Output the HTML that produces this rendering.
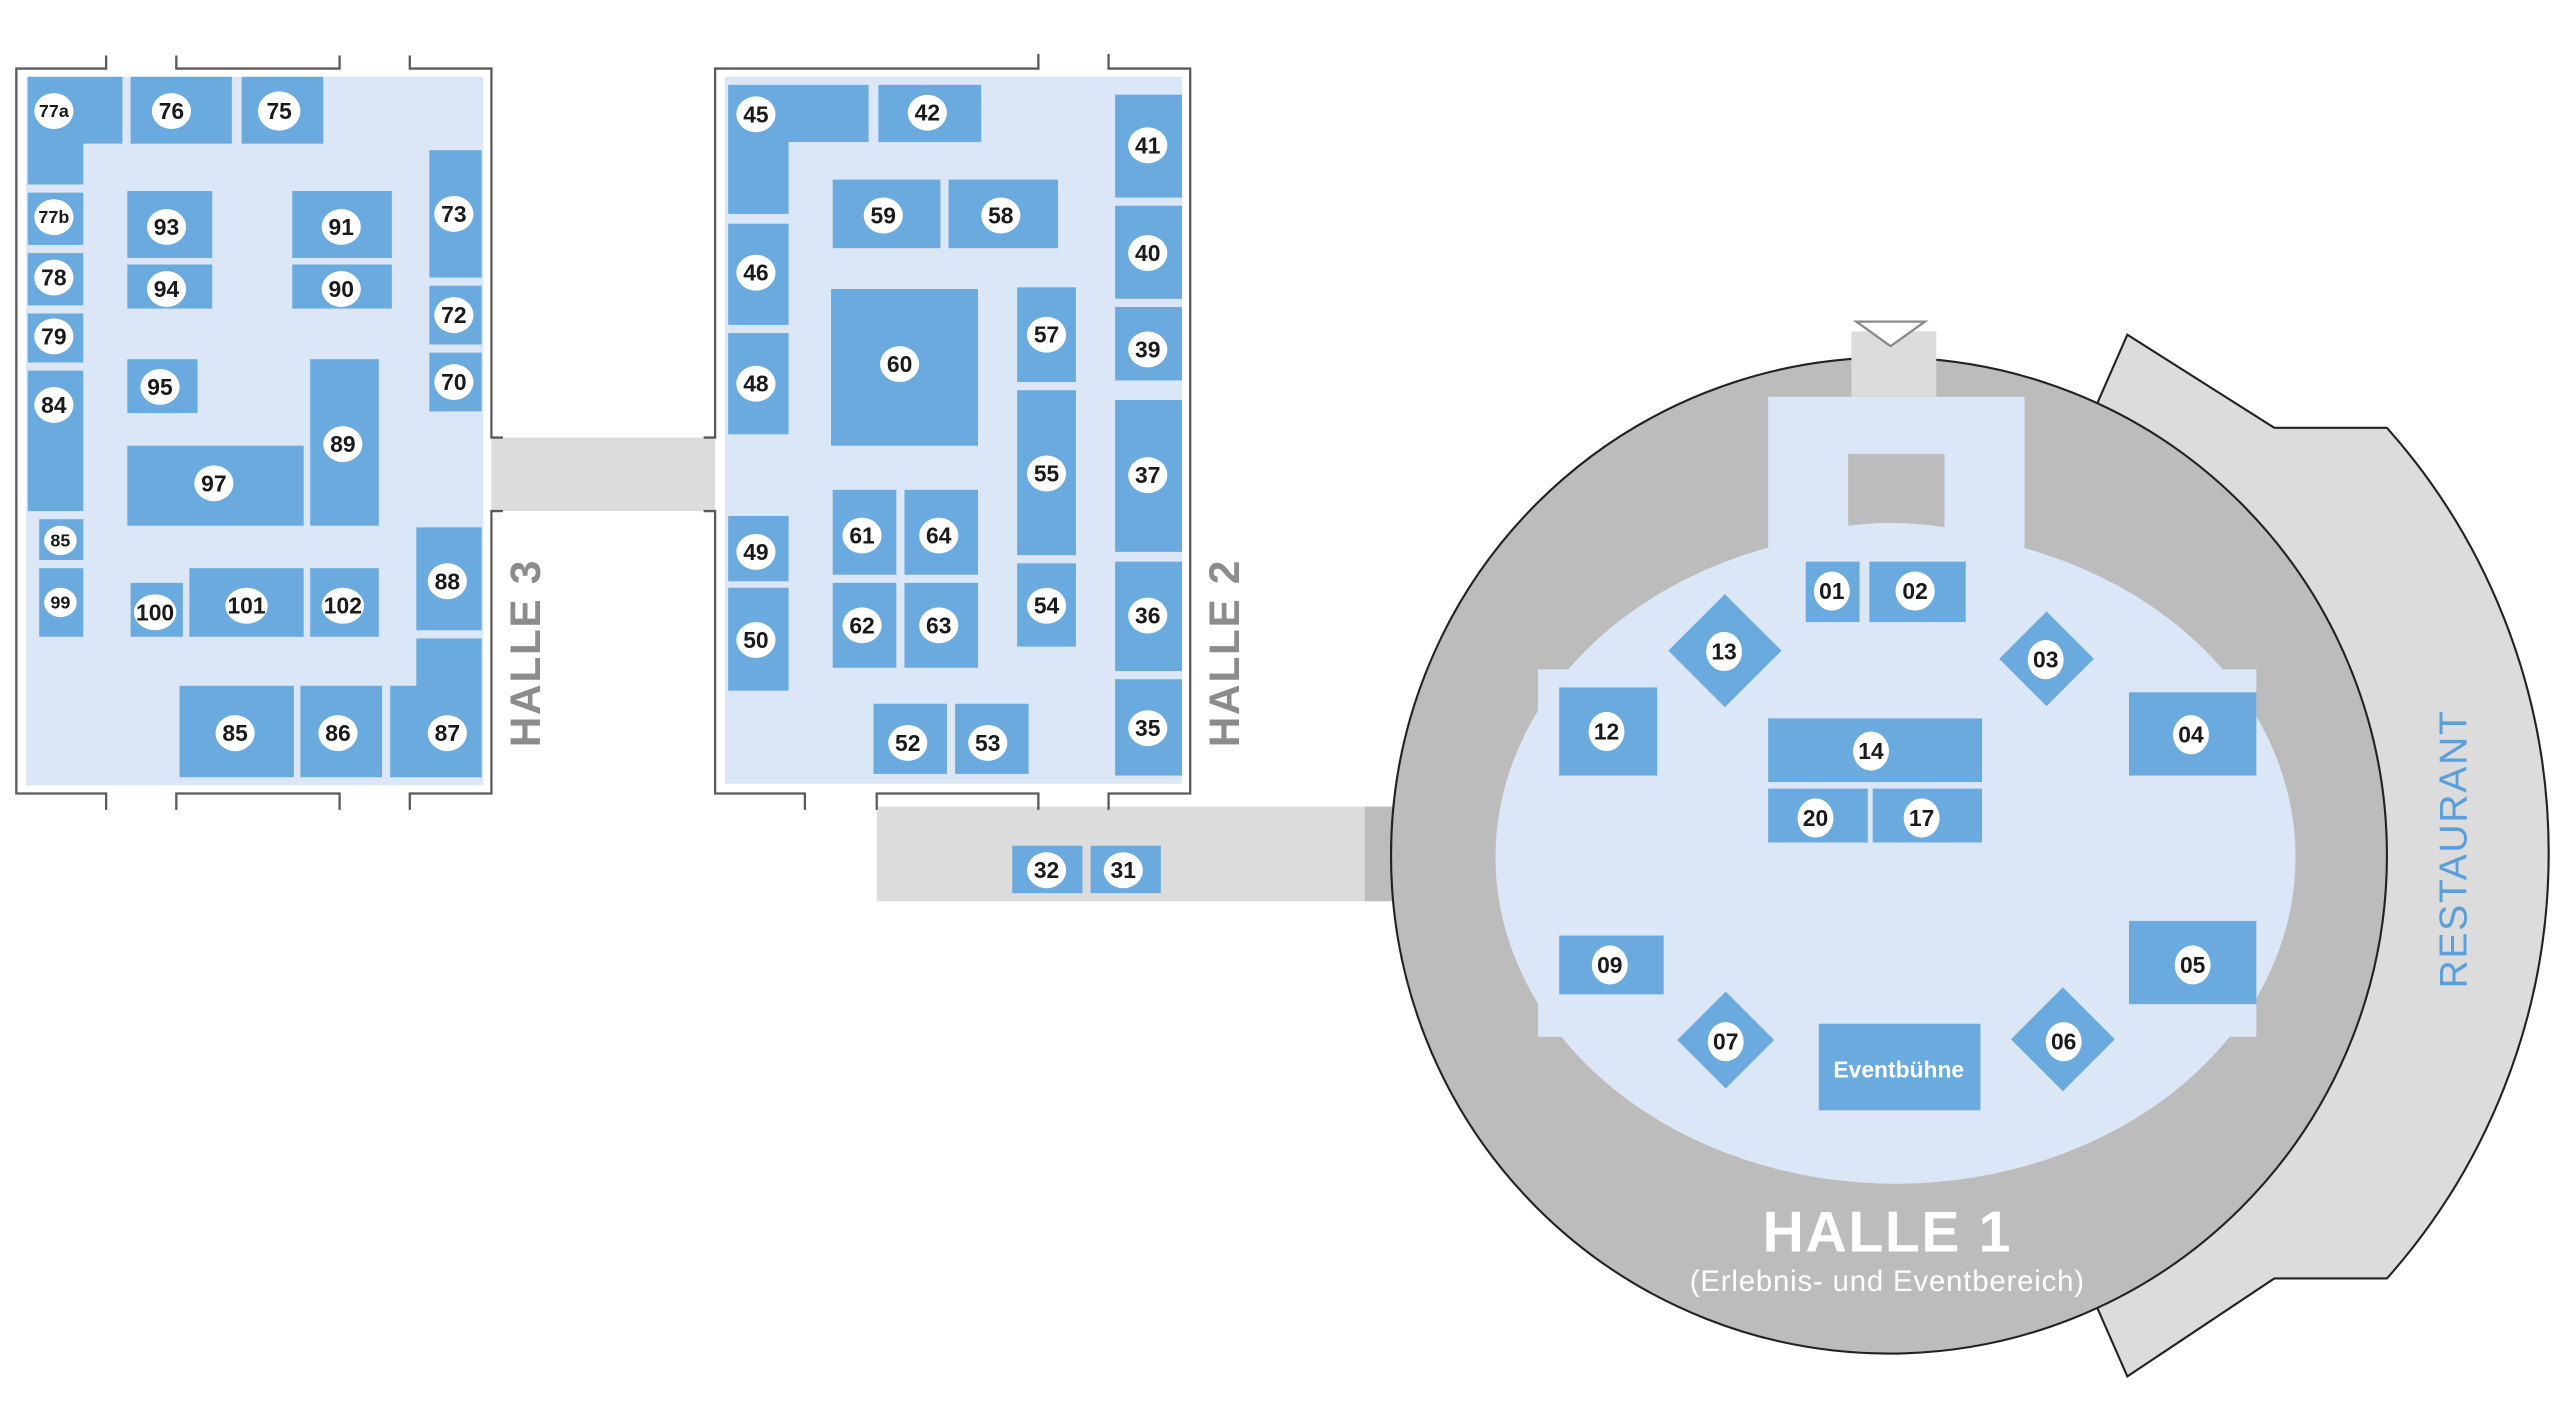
<!DOCTYPE html>
<html><head><meta charset="utf-8"><style>
html,body{margin:0;padding:0;background:#fff;}
svg{display:block;}
text{font-family:"Liberation Sans Narrow","Liberation Sans",sans-serif;}
.b{fill:#6aaadf;}
.l ellipse{fill:#fff;}
.l text{font-size:14px;font-weight:bold;fill:#1a1a1a;text-anchor:middle;dominant-baseline:central;}
.w{fill:none;stroke:#5a5a5a;stroke-width:1.4;}
</style></head><body>
<svg width="2560" height="1420" viewBox="0 0 1568 869.7" preserveAspectRatio="none" xmlns="http://www.w3.org/2000/svg">
<rect width="1568" height="870" fill="#fff"/>

<rect x="301" y="268" width="137" height="45" fill="#dcdcdc"/>
<rect x="537" y="494" width="300" height="58" fill="#dcdcdc"/>
<rect x="836" y="494" width="30" height="58" fill="#bcbcbc"/>

<rect x="16" y="47" width="280" height="434" fill="#dbe7f6"/>
<path class="w" d="M65,34 V42 H10 V486 H65 V496 M108,34 V42 H208 V34 M251,34 V42 H301 V268 H308 M308,313 H301 V486 H251 V496 M108,496 V486 H208 V496"/>
<g class="b">
<path d="M17,47 H75 V88 H51 V113 H17 Z"/>
<rect x="80" y="47" width="62" height="41"/>
<rect x="148" y="47" width="50" height="41"/>
<rect x="17" y="118" width="34" height="32"/>
<rect x="17" y="155" width="34" height="32"/>
<rect x="17" y="192" width="34" height="30"/>
<rect x="17" y="227" width="34" height="86"/>
<rect x="24" y="318" width="27" height="25"/>
<rect x="24" y="348" width="27" height="42"/>
<rect x="78" y="117" width="52" height="41"/>
<rect x="78" y="162" width="52" height="27"/>
<rect x="179" y="117" width="61" height="41"/>
<rect x="179" y="162" width="61" height="27"/>
<rect x="78" y="220" width="43" height="33"/>
<rect x="78" y="273" width="108" height="49"/>
<rect x="190" y="220" width="42" height="102"/>
<rect x="263" y="92" width="32" height="78"/>
<rect x="263" y="175" width="32" height="36"/>
<rect x="263" y="216" width="32" height="36"/>
<rect x="255" y="323" width="40" height="63"/>
<path d="M255,391 H295 V476 H239 V420 H255 Z"/>
<rect x="80" y="357" width="32" height="33"/>
<rect x="116" y="348" width="70" height="42"/>
<rect x="190" y="348" width="42" height="42"/>
<rect x="110" y="420" width="70" height="56"/>
<rect x="184" y="420" width="50" height="56"/>
</g>
<text x="322" y="400" transform="rotate(-90 322 400)" text-anchor="middle" dominant-baseline="central" font-size="26" font-weight="bold" fill="#8c8c8c" letter-spacing="1">HALLE 3</text>

<rect x="444" y="47" width="280" height="433" fill="#dbe7f6"/>
<path class="w" d="M636,33 V42 H438 V268 H431 M431,313 H438 V486 H493 V496 M537,496 V486 H636 V496 M679,33 V42 H729 V486 H679 V496"/>
<g class="b">
<path d="M446,52 H532 V87 H483 V131 H446 Z"/>
<rect x="538" y="52" width="63" height="35"/>
<rect x="683" y="58" width="41" height="63"/>
<rect x="683" y="126" width="41" height="57"/>
<rect x="683" y="188" width="41" height="45"/>
<rect x="683" y="245" width="41" height="93"/>
<rect x="683" y="344" width="41" height="67"/>
<rect x="683" y="416" width="41" height="59"/>
<rect x="510" y="110" width="66" height="42"/>
<rect x="581" y="110" width="67" height="42"/>
<rect x="446" y="137" width="37" height="62"/>
<rect x="446" y="204" width="37" height="62"/>
<rect x="509" y="177" width="90" height="96"/>
<rect x="623" y="176" width="36" height="58"/>
<rect x="623" y="239" width="36" height="101"/>
<rect x="623" y="345" width="36" height="51"/>
<rect x="446" y="316" width="37" height="40"/>
<rect x="446" y="360" width="37" height="63"/>
<rect x="510" y="300" width="39" height="52"/>
<rect x="554" y="300" width="45" height="52"/>
<rect x="510" y="357" width="39" height="52"/>
<rect x="554" y="357" width="45" height="52"/>
<rect x="535" y="431" width="45" height="43"/>
<rect x="585" y="431" width="45" height="43"/>
<rect x="620" y="518" width="43" height="29"/>
<rect x="668" y="518" width="43" height="29"/>
</g>
<text x="750" y="400" transform="rotate(-90 750 400)" text-anchor="middle" dominant-baseline="central" font-size="26" font-weight="bold" fill="#8c8c8c" letter-spacing="1">HALLE 2</text>

<path d="M1285,246 L1303,205 L1393,262 L1462,262 A392,392 0 0 1 1462,783 L1393,783 L1303,843 L1285,802 Z" fill="#dcdcdc" stroke="#222" stroke-width="1.3"/>
<text x="1503" y="520" transform="rotate(-90 1503 520)" text-anchor="middle" dominant-baseline="central" font-size="24" fill="#5a9fdc" letter-spacing="1">RESTAURANT</text>

<circle cx="1157" cy="524" r="305" fill="#bcbcbc" stroke="#222" stroke-width="1.3"/>
<rect x="1134" y="203" width="52" height="40" fill="#dcdcdc"/>
<path d="M1137,197 H1179 L1158,212 Z" fill="#fff" stroke="#888" stroke-width="1.4"/>
<g fill="#dbe7f6">
<ellipse cx="1161" cy="525" rx="245" ry="200"/>
<rect x="942" y="410" width="440" height="225"/>
<rect x="1083" y="243" width="157" height="130"/>
</g>
<path d="M1132,278 H1191 V323 Q1161,318 1132,322 Z" fill="#bcbcbc"/>
<g class="b">
<rect x="1106" y="344" width="33" height="37"/>
<rect x="1145" y="344" width="59" height="37"/>
<rect x="1032" y="374" width="49" height="49" transform="rotate(45 1056.5 398.5)"/>
<rect x="1233" y="383" width="41" height="41" transform="rotate(45 1253.5 403.5)"/>
<rect x="955" y="421" width="60" height="54"/>
<rect x="1304" y="424" width="78" height="51"/>
<rect x="1083" y="440" width="131" height="39"/>
<rect x="1083" y="483" width="61" height="33"/>
<rect x="1147" y="483" width="67" height="33"/>
<rect x="955" y="573" width="64" height="36"/>
<rect x="1304" y="564" width="78" height="51"/>
<rect x="1036" y="616" width="42" height="42" transform="rotate(45 1057 637)"/>
<rect x="1241" y="614" width="45" height="45" transform="rotate(45 1263.5 636.5)"/>
<rect x="1114" y="627" width="99" height="53"/>
</g>
<text x="1163" y="655" text-anchor="middle" dominant-baseline="central" font-size="14" font-weight="bold" fill="#fff">Eventbühne</text>
<text x="1156" y="755" text-anchor="middle" dominant-baseline="central" font-size="35" font-weight="bold" fill="#fff" letter-spacing="1">HALLE 1</text>
<text x="1156" y="785" text-anchor="middle" dominant-baseline="central" font-size="18" fill="#fff" letter-spacing="0.5">(Erlebnis- und Eventbereich)</text>

<g class="l">
<ellipse cx="33" cy="68" rx="12" ry="11"/><text x="33" y="68" style="font-size:11px">77a</text>
<ellipse cx="105" cy="68" rx="12" ry="11"/><text x="105" y="68">76</text>
<ellipse cx="171" cy="68" rx="13" ry="12"/><text x="171" y="68">75</text>
<ellipse cx="33" cy="133" rx="12" ry="11"/><text x="33" y="133" style="font-size:11px">77b</text>
<ellipse cx="33" cy="170" rx="12" ry="11"/><text x="33" y="170">78</text>
<ellipse cx="33" cy="206" rx="12" ry="11"/><text x="33" y="206">79</text>
<ellipse cx="33" cy="248" rx="12" ry="11"/><text x="33" y="248">84</text>
<ellipse cx="37" cy="331" rx="10" ry="9"/><text x="37" y="331" style="font-size:11px">85</text>
<ellipse cx="37" cy="369" rx="10" ry="9"/><text x="37" y="369" style="font-size:11px">99</text>
<ellipse cx="102" cy="139" rx="12" ry="11"/><text x="102" y="139">93</text>
<ellipse cx="102" cy="177" rx="12" ry="11"/><text x="102" y="177">94</text>
<ellipse cx="209" cy="139" rx="12" ry="11"/><text x="209" y="139">91</text>
<ellipse cx="209" cy="177" rx="12" ry="11"/><text x="209" y="177">90</text>
<ellipse cx="98" cy="237" rx="12" ry="11"/><text x="98" y="237">95</text>
<ellipse cx="131" cy="296" rx="12" ry="11"/><text x="131" y="296">97</text>
<ellipse cx="210" cy="272" rx="12" ry="11"/><text x="210" y="272">89</text>
<ellipse cx="278" cy="131" rx="12" ry="11"/><text x="278" y="131">73</text>
<ellipse cx="278" cy="193" rx="12" ry="11"/><text x="278" y="193">72</text>
<ellipse cx="278" cy="234" rx="12" ry="11"/><text x="278" y="234">70</text>
<ellipse cx="274" cy="356" rx="12" ry="11"/><text x="274" y="356">88</text>
<ellipse cx="95" cy="375" rx="13" ry="11"/><text x="95" y="375">100</text>
<ellipse cx="151" cy="371" rx="13" ry="11"/><text x="151" y="371">101</text>
<ellipse cx="210" cy="371" rx="13" ry="11"/><text x="210" y="371">102</text>
<ellipse cx="144" cy="449" rx="12" ry="11"/><text x="144" y="449">85</text>
<ellipse cx="207" cy="449" rx="12" ry="11"/><text x="207" y="449">86</text>
<ellipse cx="274" cy="449" rx="12" ry="11"/><text x="274" y="449">87</text>
<ellipse cx="463" cy="70" rx="12" ry="11"/><text x="463" y="70">45</text>
<ellipse cx="568" cy="69" rx="12" ry="11"/><text x="568" y="69">42</text>
<ellipse cx="703" cy="89" rx="12" ry="11"/><text x="703" y="89">41</text>
<ellipse cx="703" cy="155" rx="12" ry="11"/><text x="703" y="155">40</text>
<ellipse cx="703" cy="214" rx="12" ry="11"/><text x="703" y="214">39</text>
<ellipse cx="703" cy="291" rx="12" ry="11"/><text x="703" y="291">37</text>
<ellipse cx="703" cy="377" rx="12" ry="11"/><text x="703" y="377">36</text>
<ellipse cx="703" cy="446" rx="12" ry="11"/><text x="703" y="446">35</text>
<ellipse cx="541" cy="132" rx="12" ry="11"/><text x="541" y="132">59</text>
<ellipse cx="613" cy="132" rx="12" ry="11"/><text x="613" y="132">58</text>
<ellipse cx="463" cy="167" rx="12" ry="11"/><text x="463" y="167">46</text>
<ellipse cx="463" cy="235" rx="12" ry="11"/><text x="463" y="235">48</text>
<ellipse cx="551" cy="223" rx="12" ry="11"/><text x="551" y="223">60</text>
<ellipse cx="641" cy="205" rx="12" ry="11"/><text x="641" y="205">57</text>
<ellipse cx="641" cy="290" rx="12" ry="11"/><text x="641" y="290">55</text>
<ellipse cx="641" cy="371" rx="12" ry="11"/><text x="641" y="371">54</text>
<ellipse cx="463" cy="338" rx="12" ry="11"/><text x="463" y="338">49</text>
<ellipse cx="463" cy="392" rx="12" ry="11"/><text x="463" y="392">50</text>
<ellipse cx="528" cy="328" rx="12" ry="11"/><text x="528" y="328">61</text>
<ellipse cx="575" cy="328" rx="12" ry="11"/><text x="575" y="328">64</text>
<ellipse cx="528" cy="383" rx="12" ry="11"/><text x="528" y="383">62</text>
<ellipse cx="575" cy="383" rx="12" ry="11"/><text x="575" y="383">63</text>
<ellipse cx="556" cy="455" rx="12" ry="11"/><text x="556" y="455">52</text>
<ellipse cx="605" cy="455" rx="12" ry="11"/><text x="605" y="455">53</text>
<ellipse cx="641" cy="533" rx="12" ry="11"/><text x="641" y="533">32</text>
<ellipse cx="688" cy="533" rx="12" ry="11"/><text x="688" y="533">31</text>
<ellipse cx="1122" cy="362" rx="11" ry="12"/><text x="1122" y="362">01</text>
<ellipse cx="1173" cy="362" rx="12" ry="12"/><text x="1173" y="362">02</text>
<ellipse cx="1056" cy="399" rx="11" ry="12"/><text x="1056" y="399">13</text>
<ellipse cx="1253" cy="404" rx="11" ry="12"/><text x="1253" y="404">03</text>
<ellipse cx="984" cy="448" rx="11" ry="12"/><text x="984" y="448">12</text>
<ellipse cx="1342" cy="450" rx="11" ry="12"/><text x="1342" y="450">04</text>
<ellipse cx="1146" cy="460" rx="11" ry="12"/><text x="1146" y="460">14</text>
<ellipse cx="1112" cy="501" rx="11" ry="12"/><text x="1112" y="501">20</text>
<ellipse cx="1177" cy="501" rx="11" ry="12"/><text x="1177" y="501">17</text>
<ellipse cx="986" cy="591" rx="11" ry="12"/><text x="986" y="591">09</text>
<ellipse cx="1343" cy="591" rx="11" ry="12"/><text x="1343" y="591">05</text>
<ellipse cx="1057" cy="638" rx="11" ry="12"/><text x="1057" y="638">07</text>
<ellipse cx="1264" cy="638" rx="11" ry="12"/><text x="1264" y="638">06</text>
</g>
</svg>
</body></html>
